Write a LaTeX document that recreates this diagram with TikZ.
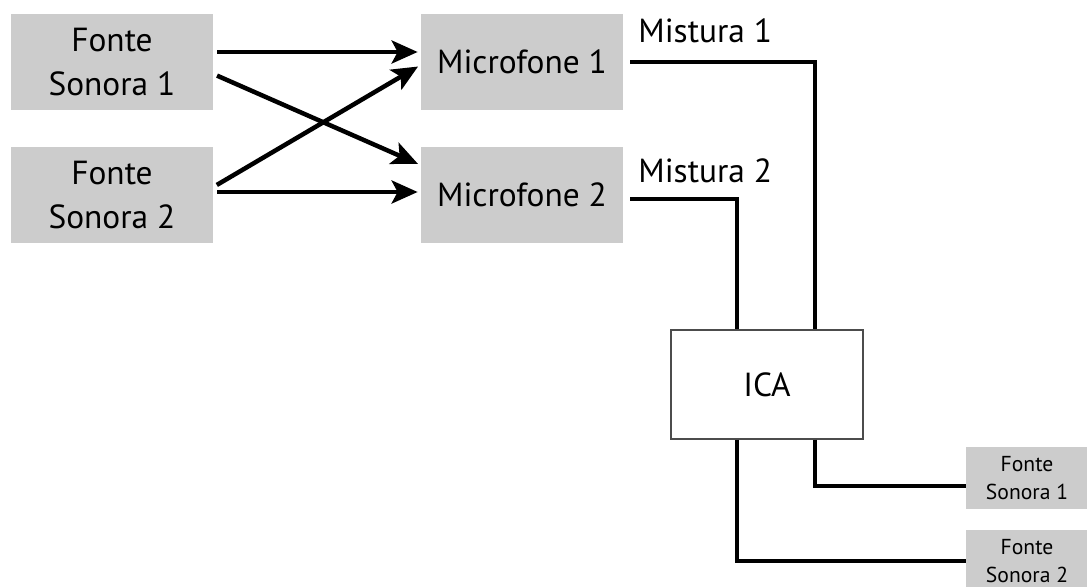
\documentclass[tikz,border=0pt]{standalone}
\usepackage{fontspec}
\setmainfont{PT Sans}
\usetikzlibrary{arrows.meta}
\definecolor{caixa}{RGB}{204,204,204}

\begin{document}
\begin{tikzpicture}[>={Stealth[length=0.52cm,width=0.46cm,inset=0.12cm]},
    box/.style={fill=caixa, minimum width=4.04cm, minimum height=1.92cm, align=center,
        font=\fontsize{19}{24.5}\selectfont},
    saida/.style={fill=caixa, minimum width=2.44cm, minimum height=1.24cm, align=center,
        font=\fontsize{12.3}{16}\selectfont},
    seta/.style={->, line width=0.09cm, shorten <=0.08cm, shorten >=0.06cm},
    fio/.style={line width=0.075cm, shorten <=0.14cm},
    lbl/.style={font=\fontsize{19}{24.5}\selectfont, inner sep=0pt}]

    \useasboundingbox (0,0) rectangle (21.74,-11.72);

    % fontes e microfones
    \node[box] (fs1) at (2.24, -1.24) {Fonte\\Sonora 1};
    \node[box] (fs2) at (2.24, -3.90) {Fonte\\Sonora 2};
    \node[box] (mic1) at (10.44, -1.24) {Microfone 1};
    \node[box] (mic2) at (10.44, -3.90) {Microfone 2};

    % bloco ICA e fontes separadas
    \node[draw=black!70, line width=0.8pt, minimum width=3.84cm, minimum height=2.18cm,
        font=\fontsize{19}{24.5}\selectfont] (ica) at (15.34, -7.69) {ICA};
    \node[saida] (out1) at (20.54, -9.56) {Fonte\\Sonora 1};
    \node[saida] (out2) at (20.54, -11.22) {Fonte\\Sonora 2};

    % rotulos das misturas
    \node[lbl, anchor=base west] (mix1) at (12.76, -0.84) {Mistura 1};
    \node[lbl, anchor=base west] (mix2) at (12.76, -3.64) {Mistura 2};

    % setas
    \draw[seta] ([yshift=0.2cm]fs1.east) -- ([yshift=0.2cm]mic1.west);
    \draw[seta] ([yshift=-0.24cm]fs1.east) -- ([yshift=0.6cm]mic2.west);
    \draw[seta] ([yshift=0.16cm]fs2.east) -- ([yshift=-0.06cm]mic1.west);
    \draw[seta] ([yshift=0.06cm]fs2.east) -- ([yshift=0.06cm]mic2.west);

    % ligacoes
    \draw[fio] (mic1.east) -| ([xshift=0.96cm]ica.north);
    \draw[fio] ([yshift=-0.08cm]mic2.east) -| ([xshift=-0.6cm]ica.north);
    \draw[line width=0.075cm] ([xshift=0.96cm]ica.south) |- ([yshift=-0.16cm]out1.west);
    \draw[line width=0.075cm] ([xshift=-0.6cm]ica.south) |- (out2.west);

\end{tikzpicture}
\end{document}
